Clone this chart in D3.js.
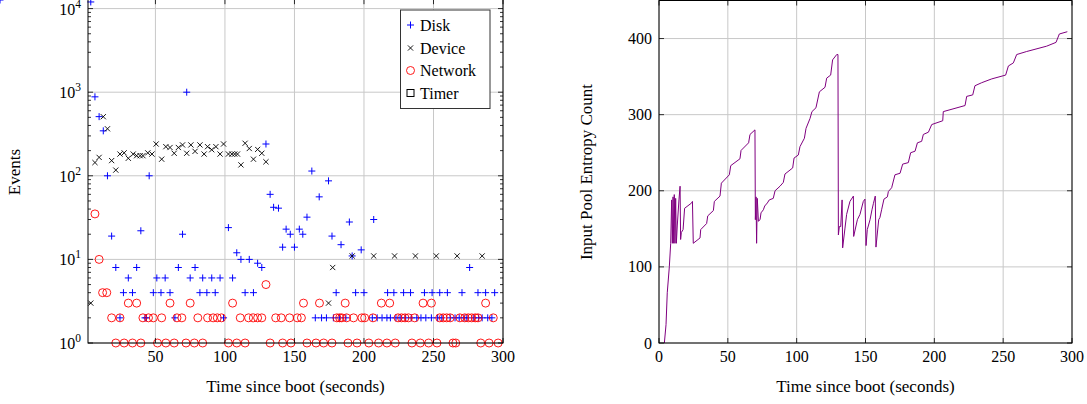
<!DOCTYPE html>
<html><head><meta charset="utf-8">
<script src="https://cdn.jsdelivr.net/npm/d3@7"></script>
<style>
html,body{margin:0;padding:0;background:#fff;}
svg{display:block;}
text{font-family:"Liberation Serif","Times New Roman",serif;fill:#000;}
</style></head>
<body>
<svg id="chart" width="1087" height="404"></svg>
<script>
// ---------------- DATA ----------------
const xTicks = [50, 100, 150, 200, 250, 300];
const yLogTicks = [1, 10, 100, 1000, 10000];
const yLogTickExp = ["0", "1", "2", "3", "4"];
const seriesNames = ["Disk", "Device", "Network", "Timer"];

const diskTime = [3.5,6.5,9.5,12.5,15.5,18.5,21.5,24.5,27,30.5,33.5,36.5,39.5,42.5,43.5,45.5,48.5,51,54,57,60.5,64,66.5,69.5,72.5,75,78.5,82,84,87,90.5,93,96.5,99,102.5,105.5,108.5,111.5,114.5,117.5,120.5,123.5,126.5,129.5,132.5,135,138.5,141.5,144,147,150,153.5,156,159,162.5,165,167.8,169.5,173,174.5,177,178,180,183.5,182.5,187,189.5,191.5,194,198,200,207,206,209.5,213,216.5,217,219,221.5,223,226,228.5,230,233.5,234,238,241,243.5,244.5,248.5,249,253,254.5,256,260,262,265.5,268.5,270.5,272,274,276,279,282,282.5,285,287.5,289,292,294,297.5];
const diskValue = [12000,880,510,345,100,19,8,2,4,6,4,8,22,2,2,100,4,6,4,6,4,2,8,20,1000,6,8,4,6,4,6,4,6,2,24,6,12,10,4,10,4,9,8,240,60,42,41,14,23,20,14,23,20,32,114,2,56,2,2,87,19,2,4,15,2,2,28,11,4,13,4,30,2,2,2,2,4,2,4,2,2,4,2,4,2,2,2,4,2,2,4,2,4,2,4,2,2,2,4,2,2,8,2,4,2,2,4,2,2,4];

const deviceTime = [3.5,6.5,9.5,12.5,15.5,18.5,21.5,24.5,27.5,30.5,34,36.5,39,41,44.5,47.5,50.5,54.5,57.5,60.5,63.5,66.5,69.5,72.5,75.5,78.5,82,85,87.5,90.5,93.5,96.5,99,102.5,105,107,109,111.5,114.5,117.5,120.5,123.5,126.5,129.5,174.5,177.5,191.5,207,222,237,252,267,285];
const deviceValue = [3,144,166,509,365,152,117,182,188,162,182,174,174,174,188,182,240,158,223,218,186,218,234,186,234,196,234,182,223,205,223,182,240,182,182,182,182,135,245,212,158,207,186,147,3,8,11,11,11,11,11,11,11];

const networkTime = [6.5,9.5,12,15,18.5,21.5,24.5,27.5,30.5,33.5,36.5,39.5,41,45,48.5,51.5,54.5,57.5,60.5,63.5,65.5,69,72,75,78,80.5,84,87.5,91.5,94.5,97.5,102.5,105.5,108.5,111,114.5,117,120.5,123.5,126.5,129.5,132.5,136.5,140.5,141.5,146.5,147.5,152,155,156.5,159,165.5,168,171,177,180.5,182.5,184,186.5,187.5,188.5,192.5,195,198.5,200.5,203.5,206.5,210.5,212.5,216.5,218.5,222.5,224.5,227,229.5,232,234.5,236.5,240.5,242.5,246.5,248.5,252.5,254.5,257,259.5,262,264,266,269,272.5,275,277.5,280,282,284,287.5,290,293,296.5];
const networkValue = [35,10,4,4,2,1,2,1,3,1,3,1,2,2,2,1,2,1,3,1,2,2,1,3,1,2,1,2,2,2,2,1,3,1,2,1,2,2,2,2,5,1,2,2,1,2,1,2,2,3,1,1,3,1,1,2,2,2,3,2,1,2,1,2,2,1,2,1,3,1,3,1,2,2,2,2,1,2,1,3,1,3,1,2,2,2,2,1,1,2,2,2,2,2,2,1,3,1,2,1];

const timerTime = [];
const timerValue = [];

const entropyTicksX = [0, 50, 100, 150, 200, 250, 300];
const entropyTicksY = [0, 100, 200, 300, 400];
const entropyTime = [3.9,5.1,6,7.5,8.5,9.2,9.7,10.2,10.7,11.1,11.6,12.1,12.6,13.3,14.5,15.3,15.7,16.2,17.5,18.6,23.7,24.3,24.9,29.8,30.3,34.6,35.4,39.5,40.2,44.3,45.3,51.1,52.1,58.8,59.6,65.1,66.1,69.7,70,70.5,70.9,71.4,72.2,73.4,74.1,75.8,76.8,78.7,80.1,83,84.3,87.9,90.3,91.5,97.1,98.1,101.2,102.4,105.6,106.8,109.7,111.1,114,116.5,120.6,121.8,124.7,126.1,129.1,130,130.3,131,132,133,133.4,135.1,136.3,138.7,141.2,141.4,144.1,146,148.4,149.6,150.4,151.3,153.3,154.7,155.7,157.1,157.6,159.6,160.5,161.7,163.4,165.9,166.6,169,171.4,175.1,177,181.1,182.8,186,187.7,190.8,192,195.7,198.1,206.1,206.5,222.3,223.5,227.9,229.5,234.4,241.7,251.8,253.8,257.4,259.8,267.1,281.6,288.4,290.8,296.6];
const entropyCount = [0,24,66,100,131,188,131,192,131,195,131,190,131,155,188,206,136,145,149,177,184,186,131,138,149,157,167,174,186,193,210,221,233,242,253,263,274,280,162,192,131,190,160,162,171,175,180,184,188,190,200,206,211,222,230,243,247,258,269,282,295,304,309,330,336,348,352,372,379,379,142,153,153,188,125,151,169,186,193,140,162,169,186,189,128,149,162,175,183,193,126,162,165,175,189,192,199,204,221,223,235,237,250,252,263,265,274,277,287,292,304,312,324,326,338,342,347,352,364,368,379,383,390,395,406,409];

// ---------------- DRAW ----------------
const svg = d3.select("#chart");
const FONT = 16;
const LABEL_FONT = 17;
const gridColor = "#c8c8c8";

// ---- LEFT CHART ----
const L = {x0: 88, x1: 503, y0: 343, y1: -0.8};
const xL = d3.scaleLinear().domain([1.5, 300]).range([L.x0, L.x1]);
const yL = d3.scaleLog().domain([1, 12950]).range([L.y0, L.y1]);

const gL = svg.append("g");
gL.selectAll(".gx").data(xTicks).join("line")
  .attr("x1", d => xL(d)).attr("x2", d => xL(d)).attr("y1", L.y0).attr("y2", L.y1)
  .attr("stroke", gridColor).attr("stroke-width", 1);
gL.selectAll(".gy").data(yLogTicks).join("line")
  .attr("x1", L.x0).attr("x2", L.x1).attr("y1", d => yL(d)).attr("y2", d => yL(d))
  .attr("stroke", gridColor).attr("stroke-width", 1);

const minor = [];
for (let e = 0; e < 5; e++) for (let m = 2; m <= 9; m++) { const v = m * Math.pow(10, e); if (v < 12950) minor.push(v); }

const disk = diskTime.map((t, i) => [t, diskValue[i]]);
const device = deviceTime.map((t, i) => [t, deviceValue[i]]);
const network = networkTime.map((t, i) => [t, networkValue[i]]);
const timer = timerTime.map((t, i) => [t, timerValue[i]]);

gL.append("g").selectAll("path").data(disk).join("path")
  .attr("transform", d => `translate(${xL(d[0])},${yL(d[1])})`)
  .attr("d", "M-3.5,0H3.5M0,-3.5V3.5").attr("stroke", "#0000ff").attr("stroke-width", 1).attr("fill", "none");
gL.append("g").selectAll("path").data(device).join("path")
  .attr("transform", d => `translate(${xL(d[0])},${yL(d[1])})`)
  .attr("d", "M-2.6,-2.6L2.6,2.6M-2.6,2.6L2.6,-2.6").attr("stroke", "#000").attr("stroke-width", 0.9).attr("fill", "none");
gL.append("g").selectAll("circle").data(network).join("circle")
  .attr("cx", d => xL(d[0])).attr("cy", d => yL(d[1])).attr("r", 4)
  .attr("stroke", "#ff0000").attr("stroke-width", 0.9).attr("fill", "none");
gL.append("g").selectAll("rect").data(timer).join("rect")
  .attr("x", d => xL(d[0]) - 3).attr("y", d => yL(d[1]) - 3).attr("width", 6).attr("height", 6)
  .attr("stroke", "#000").attr("fill", "none");

gL.append("rect").attr("x", L.x0).attr("y", L.y1).attr("width", L.x1 - L.x0).attr("height", L.y0 - L.y1)
  .attr("fill", "none").attr("stroke", "#000").attr("stroke-width", 1);
const tickG = gL.append("g").attr("stroke", "#000").attr("stroke-width", 0.8);
xTicks.forEach(d => {
  tickG.append("line").attr("x1", xL(d)).attr("x2", xL(d)).attr("y1", L.y0).attr("y2", L.y0 - 5);
  tickG.append("line").attr("x1", xL(d)).attr("x2", xL(d)).attr("y1", L.y1).attr("y2", L.y1 + 5);
});
yLogTicks.forEach(d => {
  tickG.append("line").attr("x1", L.x0).attr("x2", L.x0 + 5).attr("y1", yL(d)).attr("y2", yL(d));
  tickG.append("line").attr("x1", L.x1).attr("x2", L.x1 - 5).attr("y1", yL(d)).attr("y2", yL(d));
});
minor.forEach(d => {
  tickG.append("line").attr("x1", L.x0).attr("x2", L.x0 + 3).attr("y1", yL(d)).attr("y2", yL(d));
  tickG.append("line").attr("x1", L.x1).attr("x2", L.x1 - 3).attr("y1", yL(d)).attr("y2", yL(d));
});
gL.selectAll(".xl").data(xTicks).join("text")
  .attr("x", d => xL(d)).attr("y", 362).attr("text-anchor", "middle").attr("font-size", FONT).text(d => d);
yLogTicks.forEach((d, i) => {
  const t = gL.append("text").attr("x", 81).attr("y", yL(d) + 6).attr("text-anchor", "end").attr("font-size", FONT);
  t.append("tspan").text("10");
  t.append("tspan").attr("dy", -7).attr("font-size", 11.5).text(yLogTickExp[i]);
});
gL.append("text").attr("x", (L.x0 + L.x1) / 2).attr("y", 392).attr("text-anchor", "middle").attr("font-size", LABEL_FONT)
  .text("Time since boot (seconds)");
gL.append("text").attr("transform", "translate(20,172) rotate(-90)").attr("text-anchor", "middle").attr("font-size", LABEL_FONT)
  .text("Events");

const lg = gL.append("g");
lg.append("rect").attr("x", 400.5).attr("y", 10).attr("width", 89.5).attr("height", 98.5)
  .attr("fill", "#fff").attr("stroke", "#333").attr("stroke-width", 1);
const legendRows = [25, 48, 70.5, 93];
seriesNames.forEach((name, i) => {
  const cy = legendRows[i], cx = 410.5;
  if (i === 0) lg.append("path").attr("d", `M${cx-3.5},${cy}H${cx+3.5}M${cx},${cy-3.5}V${cy+3.5}`).attr("stroke", "#0000ff").attr("fill", "none");
  if (i === 1) lg.append("path").attr("d", `M${cx-2.6},${cy-2.6}L${cx+2.6},${cy+2.6}M${cx-2.6},${cy+2.6}L${cx+2.6},${cy-2.6}`).attr("stroke", "#000").attr("stroke-width", 0.9);
  if (i === 2) lg.append("circle").attr("cx", cx).attr("cy", cy).attr("r", 4).attr("stroke", "#ff0000").attr("fill", "none").attr("stroke-width", 0.9);
  if (i === 3) lg.append("rect").attr("x", cx - 3.5).attr("y", cy - 3.5).attr("width", 7).attr("height", 7).attr("stroke", "#000").attr("fill", "none");
  lg.append("text").attr("x", 420).attr("y", cy + 5.5).attr("font-size", FONT).text(name);
});

// ---- RIGHT CHART ----
const R = {x0: 659, x1: 1072, y0: 343, y1: 0.5};
const xR = d3.scaleLinear().domain([0, 300]).range([R.x0, R.x1]);
const yR = d3.scaleLinear().domain([0, 450]).range([R.y0, R.y1]);
const gR = svg.append("g");
gR.selectAll(".gx").data(entropyTicksX).join("line")
  .attr("x1", d => xR(d)).attr("x2", d => xR(d)).attr("y1", R.y0).attr("y2", R.y1)
  .attr("stroke", gridColor).attr("stroke-width", 1);
gR.selectAll(".gy").data(entropyTicksY).join("line")
  .attr("x1", R.x0).attr("x2", R.x1).attr("y1", d => yR(d)).attr("y2", d => yR(d))
  .attr("stroke", gridColor).attr("stroke-width", 1);

const entropy = entropyTime.map((t, i) => [t, entropyCount[i]]);
gR.append("path").datum(entropy)
  .attr("d", d3.line().x(d => xR(d[0])).y(d => yR(d[1])))
  .attr("fill", "none").attr("stroke", "#800080").attr("stroke-width", 1).attr("stroke-linejoin", "round");

gR.append("rect").attr("x", R.x0).attr("y", R.y1).attr("width", R.x1 - R.x0).attr("height", R.y0 - R.y1)
  .attr("fill", "none").attr("stroke", "#000").attr("stroke-width", 1);
const tickR = gR.append("g").attr("stroke", "#000").attr("stroke-width", 0.8);
entropyTicksX.forEach(d => {
  tickR.append("line").attr("x1", xR(d)).attr("x2", xR(d)).attr("y1", R.y0).attr("y2", R.y0 - 5);
  tickR.append("line").attr("x1", xR(d)).attr("x2", xR(d)).attr("y1", R.y1).attr("y2", R.y1 + 5);
});
entropyTicksY.forEach(d => {
  tickR.append("line").attr("x1", R.x0).attr("x2", R.x0 + 5).attr("y1", yR(d)).attr("y2", yR(d));
  tickR.append("line").attr("x1", R.x1).attr("x2", R.x1 - 5).attr("y1", yR(d)).attr("y2", yR(d));
});
gR.selectAll(".xl").data(entropyTicksX).join("text")
  .attr("x", d => xR(d)).attr("y", 362).attr("text-anchor", "middle").attr("font-size", FONT).text(d => d);
gR.selectAll(".yl").data(entropyTicksY).join("text")
  .attr("x", 652).attr("y", d => yR(d) + 5.5).attr("text-anchor", "end").attr("font-size", FONT).text(d => d);
gR.append("text").attr("x", (R.x0 + R.x1) / 2).attr("y", 392).attr("text-anchor", "middle").attr("font-size", LABEL_FONT)
  .text("Time since boot (seconds)");
gR.append("text").attr("transform", "translate(592,172) rotate(-90)").attr("text-anchor", "middle").attr("font-size", LABEL_FONT)
  .text("Input Pool Entropy Count");
</script>
</body></html>
